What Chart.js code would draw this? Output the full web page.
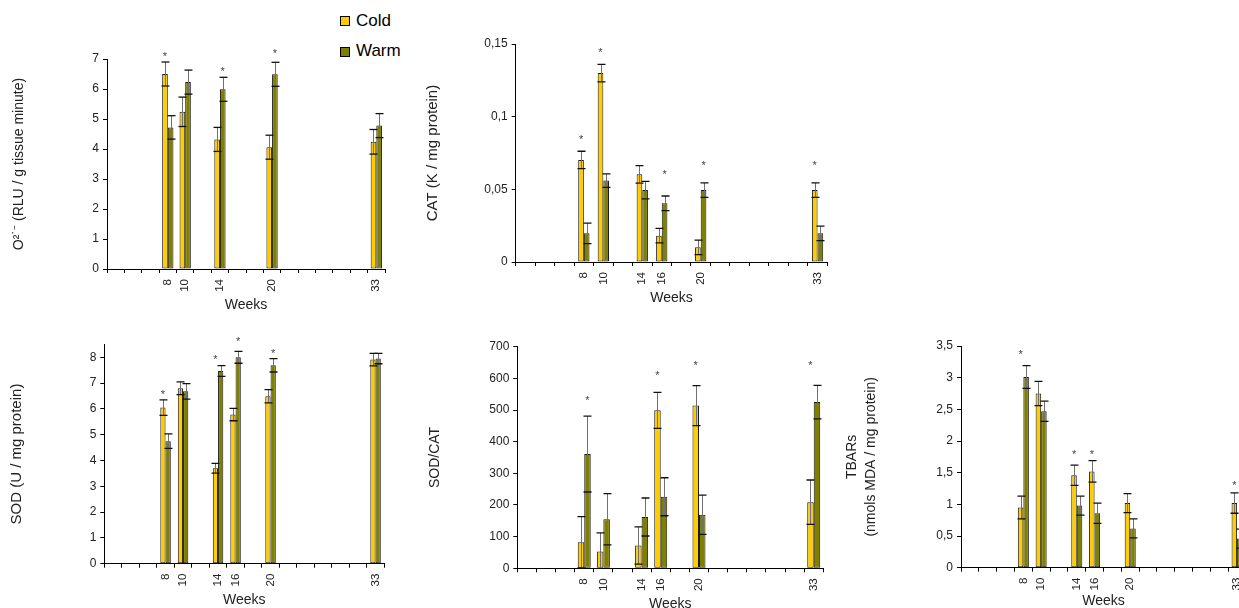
<!DOCTYPE html>
<html><head><meta charset="utf-8">
<script src="https://cdn.jsdelivr.net/npm/chart.js@4.4.1/dist/chart.umd.min.js"></script>
<style>
html,body{margin:0;padding:0;background:#fff;overflow:hidden;width:1239px;height:608px;position:relative;font-family:'Liberation Sans',Arial,sans-serif;}
canvas{position:absolute;}
.lg{position:absolute;font-size:17px;line-height:20px;color:#000;white-space:nowrap;}
.bx{position:absolute;width:8px;height:8px;border:1px solid #000;}
</style></head><body>
<div class="bx" style="left:340px;top:16px;background:#FFCC00"></div>
<div class="lg" style="left:356px;top:11px">Cold</div>
<div class="bx" style="left:340px;top:47px;background:#808000"></div>
<div class="lg" style="left:356px;top:41px">Warm</div>
<script>
// ---- category slots along the Weeks axis ----
const weekSlots = [null, null, null, 8, 10, null, 14, 16, null, 20, null, null, null, null, null, 33];
const seriesNames = ['Cold', 'Warm'];

// ---- O2 (RLU / g tissue minute) ----
const o2Weeks = [8, 10, 14, 20, 33];
const o2Cold = [6.5, 5.24, 4.32, 4.06, 4.24];
const o2ColdErr = [0.4, 0.49, 0.4, 0.4, 0.41];
const o2Warm = [4.72, 6.23, 5.99, 6.49, 4.78];
const o2WarmErr = [0.39, 0.4, 0.4, 0.4, 0.4];
const o2ColdStar = [7.16, null, null, null, null];
const o2WarmStar = [null, null, 6.66, 7.27, null];
const o2Ticks = ['0', '1', '2', '3', '4', '5', '6', '7'];

// ---- CAT (K / mg protein) ----
const catWeeks = [8, 10, 14, 16, 20, 33];
const catCold = [0.0702, 0.130, 0.0603, 0.0181, 0.0101, 0.0495];
const catColdErr = [0.006, 0.006, 0.006, 0.005, 0.005, 0.005];
const catWarm = [0.0197, 0.056, 0.0495, 0.0404, 0.0495, 0.0197];
const catWarmErr = [0.007, 0.0047, 0.006, 0.005, 0.005, 0.005];
const catColdStar = [0.086, 0.146, null, null, null, 0.068];
const catWarmStar = [null, null, null, 0.0622, 0.068, null];
const catTicks = ['0', '0,05', '0,1', '0,15'];

// ---- SOD (U / mg protein) ----
const sodWeeks = [8, 10, 14, 16, 20, 33];
const sodCold = [6.05, 6.80, 3.70, 5.78, 6.49, 7.91];
const sodColdErr = [0.3, 0.25, 0.19, 0.24, 0.26, 0.24];
const sodWarm = [4.75, 6.68, 7.47, 8.0, 7.69, 7.95];
const sodWarmErr = [0.28, 0.3, 0.21, 0.23, 0.26, 0.2];
const sodColdStar = [6.67, null, 8.0, null, null, null];
const sodWarmStar = [null, null, null, 8.7, 8.24, null];
const sodTicks = ['0', '1', '2', '3', '4', '5', '6', '7', '8'];

// ---- SOD/CAT ----
const ratioWeeks = [8, 10, 14, 16, 20, 33];
const ratioCold = [82, 53, 72, 499, 514, 209];
const ratioColdErr = [81, 59, 59, 57, 63, 70];
const ratioWarm = [361, 155, 162, 226, 169, 525];
const ratioWarmErr = [120, 81, 60, 60, 62, 53];
const ratioColdStar = [null, null, null, 618, 650, 650];
const ratioWarmStar = [539, null, null, null, null, null];
const ratioTicks = ['0', '100', '200', '300', '400', '500', '600', '700'];

// ---- TBARs (nmols MDA / mg protein) ----
const tbWeeks = [8, 10, 14, 16, 20, 33];
const tbCold = [0.95, 2.75, 1.46, 1.52, 1.02, 1.02];
const tbColdErr = [0.18, 0.19, 0.16, 0.17, 0.15, 0.16];
const tbWarm = [3.01, 2.47, 0.98, 0.86, 0.62, 0.46];
const tbWarmErr = [0.18, 0.16, 0.15, 0.16, 0.15, 0.15];
const tbColdStar = [3.41, null, 1.82, 1.83, null, 1.34];
const tbWarmStar = [null, null, null, null, null, null];
const tbTicks = ['0', '0,5', '1', '1,5', '2', '2,5', '3', '3,5'];

const COLD = '#FFCC00', WARM = '#808000';
Chart.defaults.font.family = "'Liberation Sans', Arial, sans-serif";

function toSlots(weeks, arr) {
  return weekSlots.map(w => { const i = weeks.indexOf(w); return (w === null || i < 0) ? null : arr[i]; });
}
function slotLabels(weeks) {
  return weekSlots.map(w => (w !== null && weeks.indexOf(w) >= 0) ? String(w) : '');
}

const errPlugin = {
  id: 'errbars',
  afterDatasetsDraw(chart) {
    const {ctx, chartArea} = chart;
    const y = chart.scales.y;
    ctx.save();
    ctx.beginPath();
    ctx.rect(chartArea.left - 20, 0, chartArea.width + 40, chartArea.bottom);
    ctx.clip();
    chart.data.datasets.forEach((ds, di) => {
      const meta = chart.getDatasetMeta(di);
      meta.data.forEach((el, i) => {
        const v = ds.data[i], e = ds.errors[i];
        if (v == null || e == null) return;
        const x = Math.round(el.x) + 0.5;
        const yt = y.getPixelForValue(v + e), yb = y.getPixelForValue(v - e);
        ctx.strokeStyle = '#707070'; ctx.lineWidth = 1;
        ctx.beginPath(); ctx.moveTo(x, yt); ctx.lineTo(x, yb); ctx.stroke();
        ctx.strokeStyle = '#111'; ctx.lineWidth = 1.3;
        [yt, yb].forEach(yy => { ctx.beginPath(); ctx.moveTo(x - 4, yy); ctx.lineTo(x + 4, yy); ctx.stroke(); });
      });
    });
    ctx.restore();
    ctx.save();
    ctx.font = "11px 'Liberation Sans', Arial, sans-serif";
    ctx.fillStyle = '#444'; ctx.textAlign = 'center'; ctx.textBaseline = 'alphabetic';
    chart.data.datasets.forEach((ds, di) => {
      const meta = chart.getDatasetMeta(di);
      meta.data.forEach((el, i) => {
        const s = ds.stars[i];
        if (s == null) return;
        ctx.fillText('*', el.x, y.getPixelForValue(s) + 6);
      });
    });
    ctx.restore();
  }
};

function panel(id, g, weeks, cold, coldErr, coldStar, warm, warmErr, warmStar, yTitle, titleFont, ymax, step, tickLabels, pct) {
  const lh = titleFont.size * (titleFont.lineHeight || 1.2);
  const left = Math.round(g.titleX - lh / 2);
  const top = Math.round(g.T - 26);
  const bottom = Math.round(g.weeksY + 8.4);
  const width = Math.ceil(g.R - left + 10);
  const height = bottom - top;
  const cv = document.createElement('canvas');
  cv.id = id; cv.width = width; cv.height = height;
  cv.style.left = left + 'px'; cv.style.top = top + 'px';
  cv.style.width = width + 'px'; cv.style.height = height + 'px';
  document.body.appendChild(cv);
  const yW = g.L - left, xH = bottom - g.B;
  new Chart(cv, {
    type: 'bar',
    data: {
      labels: slotLabels(weeks),
      datasets: [
        {label: seriesNames[0], data: toSlots(weeks, cold), errors: toSlots(weeks, coldErr), stars: toSlots(weeks, coldStar),
         backgroundColor: COLD, borderColor: '#1a1a1a', borderWidth: 1, borderSkipped: false},
        {label: seriesNames[1], data: toSlots(weeks, warm), errors: toSlots(weeks, warmErr), stars: toSlots(weeks, warmStar),
         backgroundColor: WARM, borderColor: '#1a1a1a', borderWidth: 1, borderSkipped: false}
      ]
    },
    options: {
      responsive: false, animation: false, devicePixelRatio: 1,
      layout: {padding: {top: g.T - top, right: width - (g.R - left), left: 0, bottom: 0}},
      plugins: {legend: {display: false}, tooltip: {enabled: false}},
      datasets: {bar: {categoryPercentage: pct, barPercentage: 1}},
      scales: {
        x: {
          ticks: {autoSkip: false, minRotation: 90, maxRotation: 90, padding: 6, color: '#222', font: {size: 11.5}},
          grid: {display: true, drawOnChartArea: false, drawTicks: true, tickLength: 4, color: '#000', offset: true},
          border: {display: true, color: '#000', width: 1},
          title: {display: true, text: 'Weeks', font: {size: 14}, padding: 0, color: '#222'},
          afterFit(s) { s.height = xH; s.paddingLeft = 0; s.paddingRight = 0; }
        },
        y: {
          min: 0, max: ymax,
          ticks: {stepSize: step, includeBounds: false, padding: 4, color: '#222', font: {size: 12},
                  callback: (v, i) => tickLabels[i]},
          grid: {display: true, drawOnChartArea: false, drawTicks: true, tickLength: 4, color: '#000'},
          border: {display: true, color: '#000', width: 1},
          title: {display: true, text: yTitle, font: titleFont, padding: 0, color: '#222'},
          afterFit(s) { s.width = yW; s.paddingTop = 0; s.paddingBottom = 0; }
        }
      }
    },
    plugins: [errPlugin]
  });
}

panel('c1', {L: 107, R: 385, T: 59, B: 269, titleX: 19.1, weeksY: 306},
  o2Weeks, o2Cold, o2ColdErr, o2ColdStar, o2Warm, o2WarmErr, o2WarmStar,
  'O²˙⁻ (RLU / g tissue minute)', {size: 14}, 7, 1, o2Ticks, 0.65);
panel('c2', {L: 515.7, R: 827.3, T: 44, B: 262, titleX: 432.7, weeksY: 299},
  catWeeks, catCold, catColdErr, catColdStar, catWarm, catWarmErr, catWarmStar,
  'CAT (K / mg protein)', {size: 15}, 0.15, 0.05, catTicks, 0.58);
panel('c3', {L: 104.3, R: 384.3, T: 344.4, B: 563.7, titleX: 16.6, weeksY: 600.5},
  sodWeeks, sodCold, sodColdErr, sodColdStar, sodWarm, sodWarmErr, sodWarmStar,
  'SOD (U / mg protein)', {size: 15}, 8.5, 1, sodTicks, 0.6);
panel('c4', {L: 517.3, R: 823.3, T: 346.7, B: 568.3, titleX: 435, weeksY: 604.3},
  ratioWeeks, ratioCold, ratioColdErr, ratioColdStar, ratioWarm, ratioWarmErr, ratioWarmStar,
  'SOD/CAT', {size: 14}, 700, 100, ratioTicks, 0.68);
panel('c5', {L: 961, R: 1246, T: 346, B: 567.7, titleX: 852, weeksY: 601.7},
  tbWeeks, tbCold, tbColdErr, tbColdStar, tbWarm, tbWarmErr, tbWarmStar,
  ['TBARs', '(nmols MDA / mg protein)'], {size: 14, lineHeight: 1.32}, 3.5, 0.5, tbTicks, 0.62);
</script>
</body></html>
